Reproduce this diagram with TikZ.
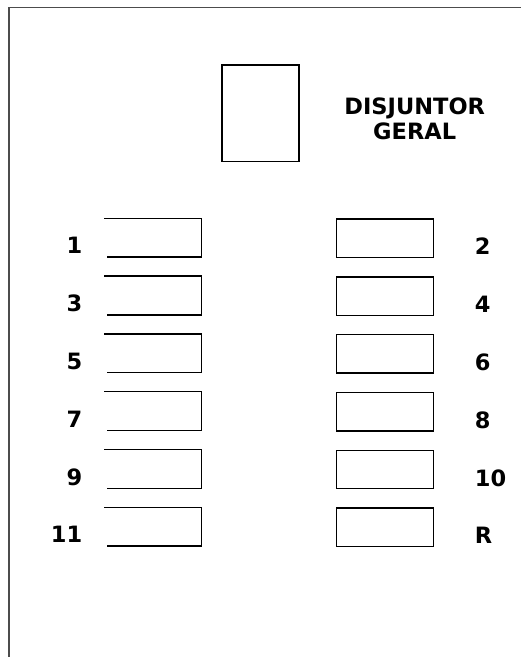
\documentclass[tikz,border=0pt]{standalone}
\usepackage{fontspec}
\setmainfont{DejaVu Sans}
\usetikzlibrary{positioning}

\begin{document}
\begin{tikzpicture}[x=1pt,y=-1pt, every node/.style={font=\fontsize{22.5}{25}\selectfont\bfseries},
    slot/.style={minimum width=97pt, minimum height=38.4pt, inner sep=0pt, anchor=north west}]
  \useasboundingbox (0,0) rectangle (521,657);
  % quadro
  \draw[line width=1.5pt, black!70] (9,657) -- (9,7.3) -- (521,7.3);
  % disjuntor geral
  \node[draw, line width=1.5pt, minimum width=77.3pt, minimum height=96.7pt, inner sep=0pt, anchor=north west] (geral) at (221,64) {};
  \node[anchor=base] (disj) at (414.7,114.4) {DISJUNTOR};
  \node[anchor=base] (disjb) at (414.7,139.4) {GERAL};
  % circuitos
  \foreach \r/\lft/\rgt in {0/1/2,1/3/4,2/5/6,3/7/8,4/9/10,5/11/R}{
    \pgfmathsetmacro{\top}{218.3+57.8*\r}
    \node[slot] (l\r) at (104,\top) {};
    \draw[line width=1.5pt] (l\r.north west) -- (l\r.north east) -- (l\r.south east) -- ([xshift=2.7pt]l\r.south west);
    \node[slot, draw, line width=1.5pt] (r\r) at (335.7,\top) {};
    \node[anchor=base east, inner sep=0pt] (nl\r) at ([xshift=-21.5pt,yshift=3.3pt]l\r.south west) {\lft};
    \node[anchor=base west, inner sep=0pt] (nr\r) at ([xshift=40.5pt,yshift=3.3pt]r\r.south east) {\rgt};
  }
\end{tikzpicture}
\end{document}
